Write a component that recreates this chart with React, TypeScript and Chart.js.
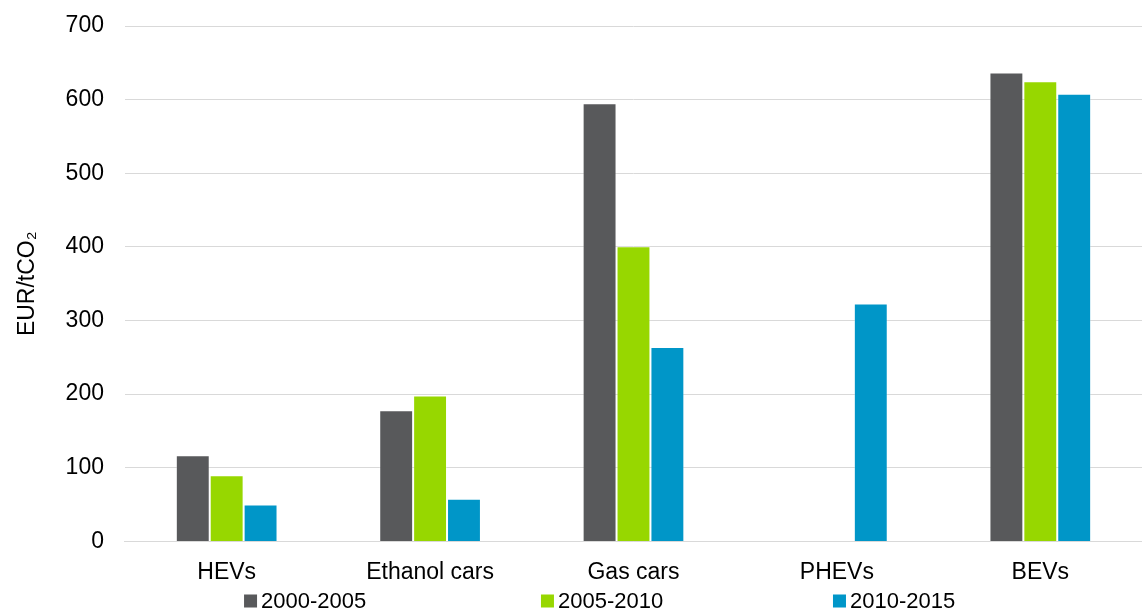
import React, { useEffect, useRef } from "react";
import { Chart, registerables } from "chart.js";

Chart.register(...registerables);

const categories = ["HEVs", "Ethanol cars", "Gas cars", "PHEVs", "BEVs"];
const seriesLabels = ["2000-2005", "2005-2010", "2010-2015"];
const values2000to2005 = [117, 178, 595, 0, 637];
const values2005to2010 = [90, 198, 401, 0, 625];
const values2010to2015 = [50, 58, 264, 323, 608];
const seriesColors = ["#58595b", "#97d700", "#0096c8"];
const yTicks = [0, 100, 200, 300, 400, 500, 600, 700];

const FONT = "'Liberation Sans', Arial, sans-serif";
const FONT_SIZE = 23;

// Evenly spread legend row drawn under the category labels
const legendPlugin = {
  id: "spreadLegend",
  afterDraw(chart: Chart) {
    const { ctx, width, height } = chart;
    const starts = [0.2137, 0.4737, 0.7294];
    const box = 13;
    const y = height - 11;
    ctx.save();
    ctx.font = `${FONT_SIZE - 1}px ${FONT}`;
    ctx.textBaseline = "middle";
    ctx.textAlign = "left";
    chart.data.datasets.forEach((ds, i) => {
      const x = width * starts[i];
      ctx.fillStyle = seriesColors[i];
      ctx.fillRect(x, y - box / 2, box, box);
      ctx.fillStyle = "#000000";
      ctx.fillText(String(ds.label), x + box + 4, y + 1);
    });
    ctx.restore();
  },
};

export default function App() {
  const canvasRef = useRef<HTMLCanvasElement | null>(null);

  useEffect(() => {
    document.body.style.margin = "0";
    const canvas = canvasRef.current;
    if (!canvas) return;
    const seriesValues = [values2000to2005, values2005to2010, values2010to2015];
    const chart = new Chart(canvas, {
      type: "bar",
      data: {
        labels: categories,
        datasets: seriesLabels.map((label, i) => ({
          label,
          data: seriesValues[i],
          backgroundColor: seriesColors[i],
          borderColor: "rgba(255,255,255,0.3)",
          borderWidth: 1,
          categoryPercentage: 0.5,
          barPercentage: 1.0,
        })),
      },
      options: {
        animation: false,
        responsive: false,
        maintainAspectRatio: false,
        layout: { padding: { left: 4, right: 0, top: 26, bottom: 17 } },
        plugins: {
          legend: { display: false },
          tooltip: { enabled: false },
        },
        scales: {
          x: {
            grid: { display: false },
            border: { display: true, color: "#d9d9d9", width: 1 },
            ticks: {
              color: "#000000",
              padding: 9,
              font: { family: FONT, size: FONT_SIZE },
              maxRotation: 0,
            },
          },
          y: {
            min: 0,
            max: 700,
            afterBuildTicks: (axis: any) => {
              axis.ticks = yTicks.map((v) => ({ value: v }));
            },
            grid: {
              color: "#d9d9d9",
              lineWidth: 1,
              drawTicks: true,
              tickLength: 16,
              tickColor: "rgba(0,0,0,0)",
            },
            border: { display: false },
            ticks: {
              color: "#000000",
              padding: 5,
              font: { family: FONT, size: FONT_SIZE },
            },
            title: {
              display: true,
              text: "EUR/tCO₂",
              color: "#000000",
              font: { family: FONT, size: FONT_SIZE },
              padding: { top: 10, bottom: 19 },
            },
          },
        },
      },
      plugins: [legendPlugin],
    });
    return () => chart.destroy();
  }, []);

  return (
    <div style={{ width: 1142, height: 612, position: "relative" }}>
      <canvas ref={canvasRef} width={1142} height={612} style={{ display: "block" }} />
    </div>
  );
}
